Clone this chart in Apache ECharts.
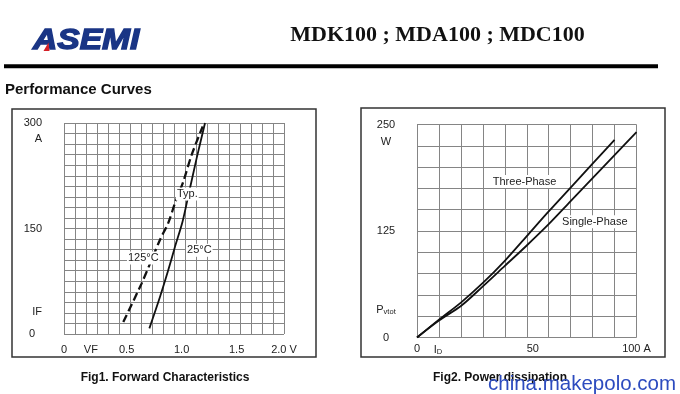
<!DOCTYPE html>
<html><head><meta charset="utf-8">
<script src="https://cdn.jsdelivr.net/npm/echarts@6/dist/echarts.min.js"></script>
<style>html,body{margin:0;padding:0;background:#fff}#c{width:680px;height:394px}</style>
</head><body><div id="c"></div>
<script>
// ---- Fig1: Forward characteristics (VF in V, IF in A)
const vf25  = [0.776, 0.873, 0.948, 1.009, 1.078, 1.139, 1.206, 1.282];
const if25  = [8, 53, 91, 124, 160, 203, 250, 300];
const vf125 = [0.539, 0.706, 0.782, 0.873, 0.948, 1.009, 1.085, 1.161, 1.261];
const if125 = [17, 72, 100, 134, 158, 186, 217, 255, 295];
// ---- Fig2: Power dissipation (ID in A, Pvtot in W)
const idThree = [0, 10, 20, 30, 40, 50, 60, 70, 80, 90];
const pThree  = [0, 21, 41, 64, 90, 119, 148, 176, 204, 232];
const idSingle = [0, 10, 20, 30, 40, 50, 60, 70, 80, 90, 100];
const pSingle  = [0, 20, 37, 60, 84, 108, 133, 160, 187, 214, 241];
// ---- tick labels
const fig1XTickValues = [0, 0.18, 0.5, 1.0, 1.5, 2.0];
const fig1XTickLabels = ['0', 'VF', '0.5', '1.0', '1.5', '2.0 V'];
const fig1YTickValues = [0, 31, 150, 277, 300];
const fig1YTickLabels = ['0', 'IF', '150', 'A', '300'];
const fig2XTickValues = [0, 7.6, 50, 100];
const fig2XTickLabels = ['0', 'ID', '50', '100 A'];
const fig2YTickValues = [0, 32, 125, 230, 250];
const fig2YTickLabels = ['0', 'Pvtot', '125', 'W', '250'];
// ---- annotations
const fig1Notes = [['Typ.', 1.121, 199], ['125°C', 0.721, 108], ['25°C', 1.23, 119]];
const fig2Notes = [['Three-Phase', 49, 183], ['Single-Phase', 81, 136]];

const FONT = 'Liberation Sans, Arial, sans-serif';
const GRIDC = '#858585';
function pick(vals, labs, v) {
  let best = 0;
  for (let i = 1; i < vals.length; i++) if (Math.abs(vals[i] - v) < Math.abs(vals[best] - v)) best = i;
  return labs[best];
}
function richLabel(t) {
  if (t === 'Pvtot') return '{n|P}{s|vtot}';
  if (t === 'ID') return '{n|I}{s|D}';
  if (t === '0') return '{z|0}';
  return '{n|' + t + '}';
}
const rich = {
  n: {fontSize: 11, fontFamily: FONT, color: '#222'},
  s: {fontSize: 7.5, fontFamily: FONT, color: '#222', verticalAlign: 'bottom', padding: [4, 0, 0, 0]},
  z: {fontSize: 11, fontFamily: FONT, color: '#222'}
};
const richZeroPad = Object.assign({}, rich, {z: {fontSize: 11, fontFamily: FONT, color: '#222', padding: [0, 7, 0, 0]}});
function zip(a, b) { return a.map((v, i) => [v, b[i]]); }
function notes(arr) {
  return {
    symbol: 'circle', symbolSize: 0, animation: false,
    label: {show: true, position: 'inside', formatter: p => p.name, color: '#222', fontSize: 11,
            fontFamily: FONT, backgroundColor: '#fff', padding: [1, 1]},
    data: arr.map(n => ({name: n[0], coord: [n[1], n[2]]}))
  };
}
const split = {show: true, showMinLine: true, showMaxLine: true, lineStyle: {color: GRIDC, width: 1}};

const chart = echarts.init(document.getElementById('c'), null, {renderer: 'canvas'});
chart.setOption({
  animation: false,
  backgroundColor: '#fff',
  grid: [
    {left: 64, top: 123, width: 220, height: 211, outerBoundsMode: 'none', containLabel: false},
    {left: 417, top: 124.5, width: 219.5, height: 213, outerBoundsMode: 'none', containLabel: false}
  ],
  xAxis: [
    {type: 'value', gridIndex: 0, min: 0, max: 2, interval: 0.1,
     axisLine: {show: false}, axisTick: {show: false}, splitLine: split,
     axisLabel: {show: true, customValues: fig1XTickValues, margin: 10, align: 'left',
                 alignMinLabel: 'center', alignMaxLabel: 'center', rich: rich,
                 formatter: v => richLabel(pick(fig1XTickValues, fig1XTickLabels, v))}},
    {type: 'value', gridIndex: 1, min: 0, max: 100, interval: 10,
     axisLine: {show: false}, axisTick: {show: false}, splitLine: split,
     axisLabel: {show: true, customValues: fig2XTickValues, margin: 6, align: 'left',
                 alignMinLabel: 'center', alignMaxLabel: 'center', rich: rich,
                 formatter: v => richLabel(pick(fig2XTickValues, fig2XTickLabels, v))}}
  ],
  yAxis: [
    {type: 'value', gridIndex: 0, min: 0, max: 300, interval: 15,
     axisLine: {show: false}, axisTick: {show: false}, splitLine: split,
     axisLabel: {show: true, customValues: fig1YTickValues, margin: 22, align: 'right', rich: richZeroPad,
                 formatter: v => richLabel(pick(fig1YTickValues, fig1YTickLabels, v))}},
    {type: 'value', gridIndex: 1, min: 0, max: 250, interval: 25,
     axisLine: {show: false}, axisTick: {show: false}, splitLine: split,
     axisLabel: {show: true, customValues: fig2YTickValues, margin: 31, align: 'center', rich: rich,
                 formatter: v => richLabel(pick(fig2YTickValues, fig2YTickLabels, v))}}
  ],
  series: [
    {type: 'line', xAxisIndex: 0, yAxisIndex: 0, data: zip(vf125, if125), symbol: 'none', smooth: 0.3,
     lineStyle: {color: '#111', width: 2.3, type: [8, 4]}, z: 3, markPoint: notes(fig1Notes)},
    {type: 'line', xAxisIndex: 0, yAxisIndex: 0, data: zip(vf25, if25), symbol: 'none', smooth: 0.3,
     lineStyle: {color: '#111', width: 1.8}, z: 3},
    {type: 'line', xAxisIndex: 1, yAxisIndex: 1, data: zip(idThree, pThree), symbol: 'none', smooth: 0.3,
     lineStyle: {color: '#111', width: 1.8}, z: 3, markPoint: notes(fig2Notes)},
    {type: 'line', xAxisIndex: 1, yAxisIndex: 1, data: zip(idSingle, pSingle), symbol: 'none', smooth: 0.3,
     lineStyle: {color: '#111', width: 1.8}, z: 3}
  ],
  graphic: [
    {type: 'rect', shape: {x: 12, y: 109, width: 304, height: 248}, style: {fill: null, stroke: '#333', lineWidth: 1.5}, silent: true},
    {type: 'rect', shape: {x: 361, y: 108, width: 304, height: 249}, style: {fill: null, stroke: '#333', lineWidth: 1.5}, silent: true},
    {type: 'line', shape: {x1: 4, y1: 66.3, x2: 658, y2: 66.3}, style: {stroke: '#000', lineWidth: 4}},
    {type: 'text', x: 33, y: 41, scaleX: 1.12, style: {text: 'ASEMI', x: 0, y: 0, fill: '#1a3585', stroke: '#1a3585', lineWidth: 1.4,
      font: 'italic bold 30px ' + FONT, textVerticalAlign: 'middle'}},
    {type: 'polygon', shape: {points: [[43.5, 51], [48.5, 42.5], [49.5, 51]]}, style: {fill: '#d42027'}, z: 10},
    {type: 'text', style: {text: 'MDK100 ; MDA100 ; MDC100', x: 437.5, y: 35, fill: '#111',
      font: 'bold 22px Liberation Serif, Times New Roman, serif', textAlign: 'center', textVerticalAlign: 'middle'}},
    {type: 'text', style: {text: 'Performance Curves', x: 5, y: 90, fill: '#111',
      font: 'bold 15px ' + FONT, textAlign: 'left', textVerticalAlign: 'middle'}},
    {type: 'text', style: {text: 'Fig1. Forward Characteristics', x: 165, y: 377.5, fill: '#111',
      font: 'bold 12px ' + FONT, textAlign: 'center', textVerticalAlign: 'middle'}},
    {type: 'text', style: {text: 'Fig2. Power dissipation', x: 433, y: 377.5, fill: '#111',
      font: 'bold 12px ' + FONT, textAlign: 'left', textVerticalAlign: 'middle'}},
    {type: 'text', z: 20, style: {text: 'china.makepolo.com', x: 488, y: 384, fill: '#2c4bbf',
      font: '20.5px ' + FONT, textAlign: 'left', textVerticalAlign: 'middle'}}
  ]
});
</script></body></html>
